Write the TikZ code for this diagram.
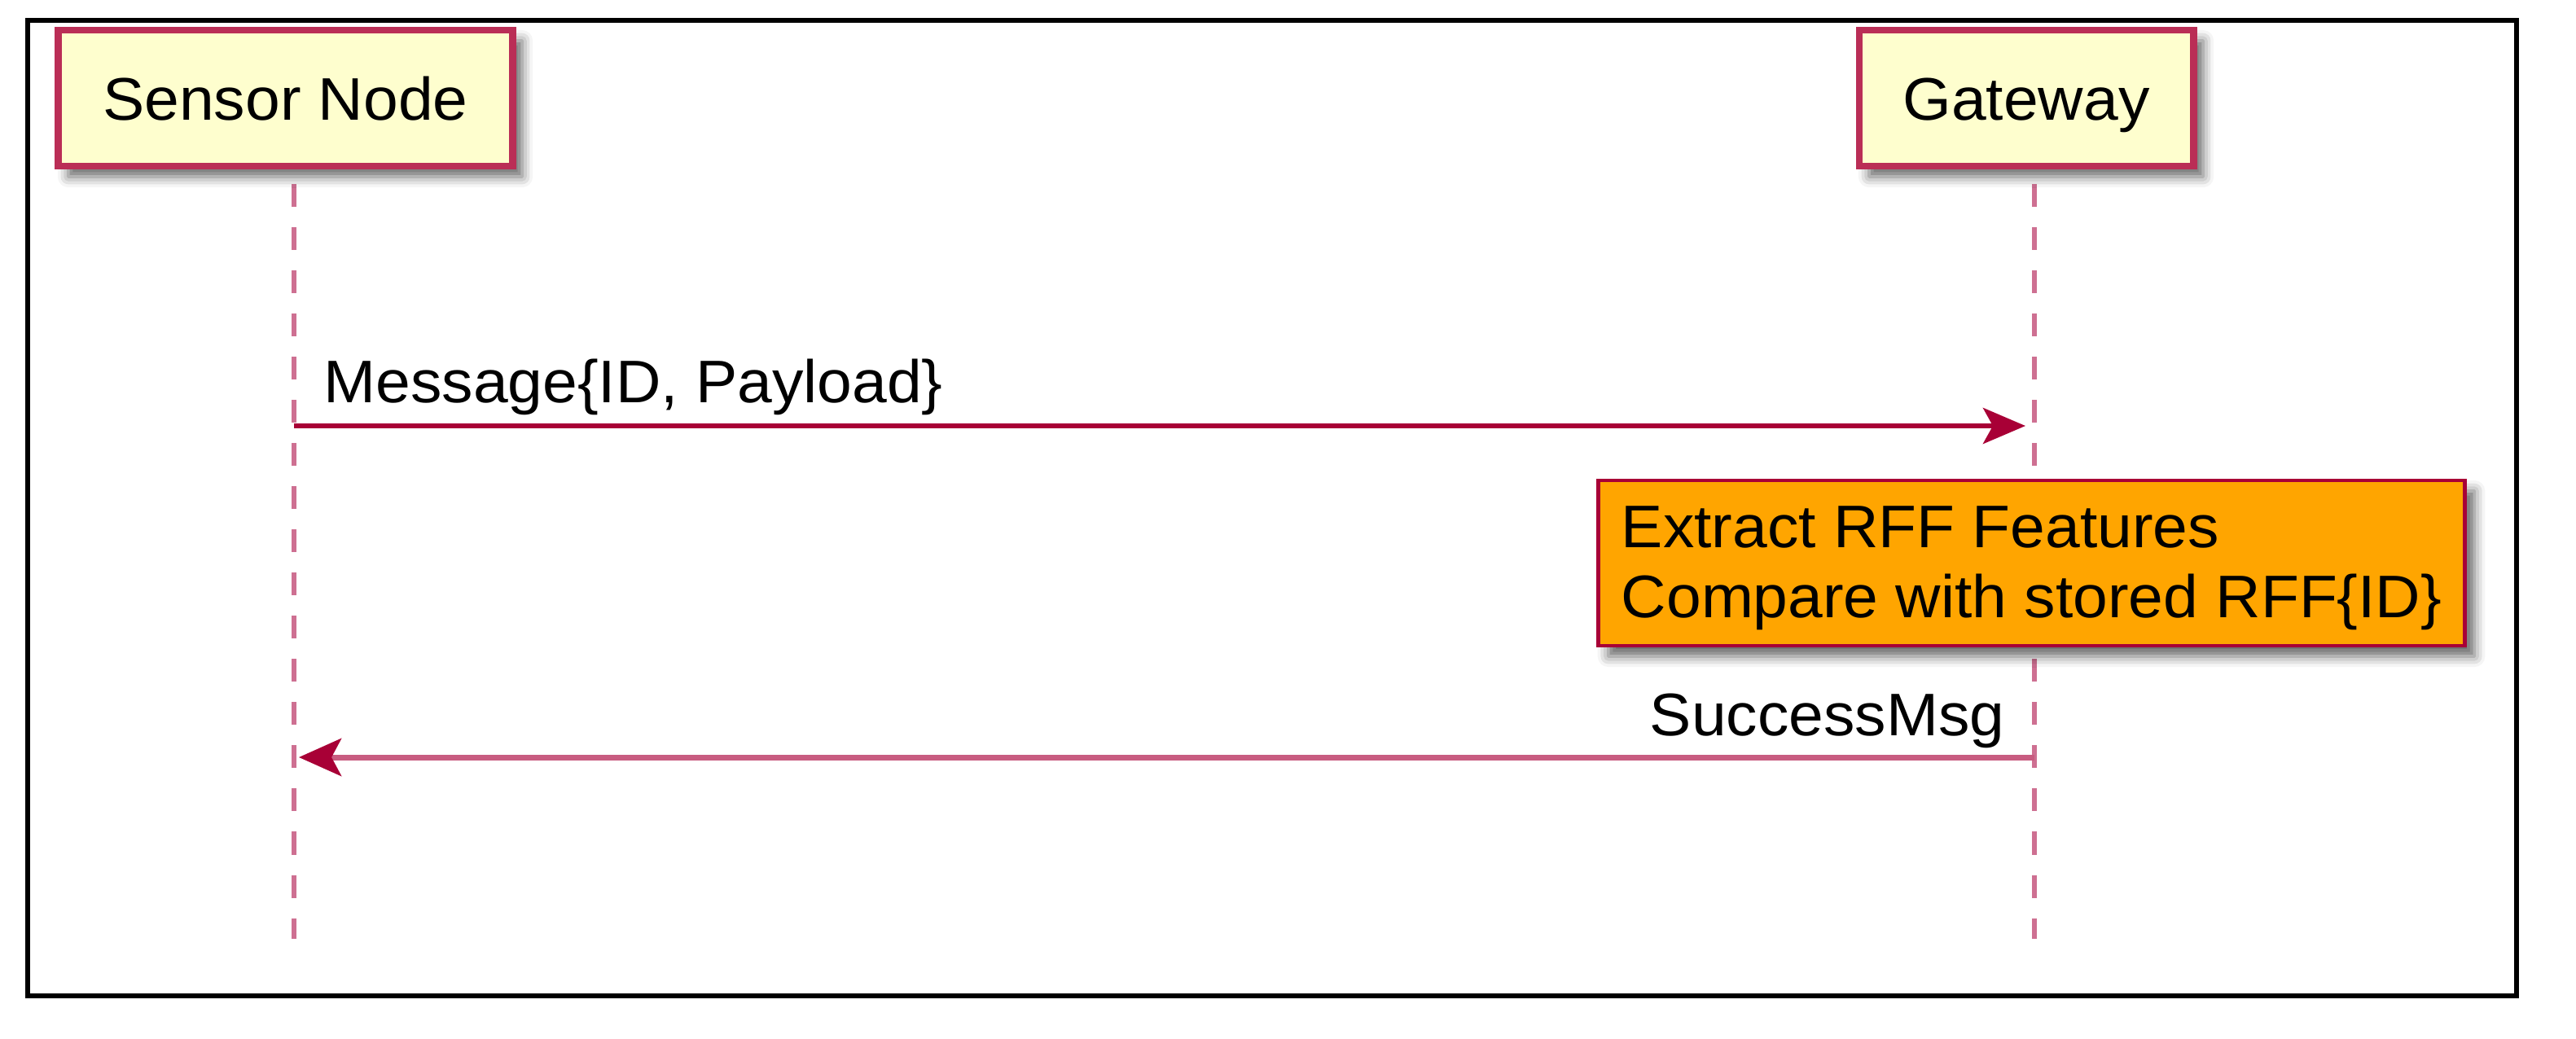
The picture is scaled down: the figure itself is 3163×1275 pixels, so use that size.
\documentclass[tikz,border=0pt]{standalone}
\usepackage{fontspec}
\setmainfont{Liberation Sans}[FakeStretch=1.04]
\usetikzlibrary{arrows.meta,shadows.blur,positioning}
\definecolor{umlred}{HTML}{A80036}
\definecolor{umlborder}{RGB}{186,46,86}
\definecolor{umlfill}{HTML}{FEFECE}
\definecolor{umlline}{RGB}{206,112,146}
\definecolor{umlnote}{HTML}{FFA500}
\definecolor{umlreturn}{RGB}{200,92,128}

\begin{document}
\begin{tikzpicture}[x=0.01cm, y=-0.01cm,
      font=\fontsize{21pt}{24.2pt}\selectfont,
      umlshadow/.style={blur shadow={shadow xshift=0.12cm, shadow yshift=-0.13cm,
                        shadow blur radius=0.13cm, shadow opacity=60}},
      actor/.style={draw=umlborder, line width=2.5pt, fill=umlfill, umlshadow,
                    minimum height=1.67cm, inner sep=0pt,
                    text height=0.53cm, text depth=0pt },
      notebox/.style={draw=umlred, line width=1.3pt, fill=umlnote, umlshadow,
                    minimum width=10.63cm, minimum height=2.03cm, inner sep=0pt,
                    align=left, text height=1.39cm, text depth=0.06cm },
      lifeline/.style={umlline, line width=1.6pt, dash pattern=on 7.97pt off 7.11pt},
      msg/.style={umlred, line width=1.7pt, shorten >=0.11cm,
                  -{Stealth[length=0.52cm, width=0.44cm, inset=0.12cm]} },
      reply/.style={umlreturn, line width=2pt, shorten >=0.06cm,
                  -{Stealth[length=0.52cm, width=0.46cm, inset=0.12cm, color=umlred]} },
      lbl/.style={inner sep=0pt, text=black},  ]

    \useasboundingbox (0,0) rectangle (3163,1275);
    \draw[line width=1.7pt] (34,25) rectangle (3090,1223);

    % lifelines
    \coordinate (sensor-top) at (361,226);
    \coordinate (sensor-end) at (361,1153);
    \coordinate (gw-top)     at (2498,226);
    \coordinate (gw-end)     at (2498,1153);
    \draw[lifeline] (sensor-top) -- (sensor-end);
    \draw[lifeline] (gw-top)     -- (gw-end);

    \begin{scope}
      \node[actor, minimum width=5.57cm] (sensor)  at (350.5,120.5) {Sensor Node};
      \node[actor, minimum width=4.10cm] (gateway) at (2488,120.5)  {Gateway};
    \end{scope}

    % messages
    \coordinate (sensor-msg) at (361,523);
    \coordinate (gw-msg)     at (2498,523);
    \coordinate (gw-ok)      at (2498,930);
    \coordinate (sensor-ok)  at (361,930);

    \draw[msg]   (sensor-msg) -- (gw-msg);
    \node[lbl, anchor=base west] (msg-lbl) at (397,494)  {Message\{ID, Payload\}};

    \node[notebox] (rff) at (2494.5,691.5) {Extract RFF Features\\Compare with stored RFF\{ID\}};

    \draw[reply] (gw-ok) -- (sensor-ok);
    \node[lbl, anchor=base east] (ok-lbl)  at (2462,903) {SuccessMsg};

  \end{tikzpicture}
\end{document}
